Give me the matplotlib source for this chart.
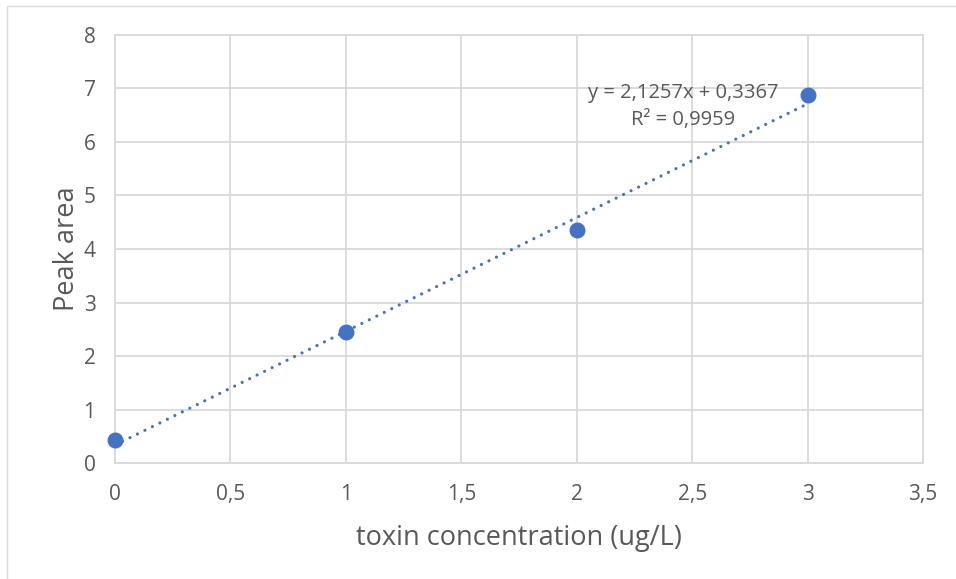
import numpy as np
import matplotlib.pyplot as plt
from matplotlib.patches import Rectangle

plt.rcParams['font.family'] = ['Open Sans', 'DejaVu Sans']

conc = [0, 1, 2, 3]
area = [0.43, 2.44, 4.35, 6.88]
x_ticks = [0, 0.5, 1, 1.5, 2, 2.5, 3, 3.5]
x_labels = ['0', '0,5', '1', '1,5', '2', '2,5', '3', '3,5']
y_ticks = [0, 1, 2, 3, 4, 5, 6, 7, 8]
eq_text = 'y = 2,1257x + 0,3367\nR² = 0,9959'

blue = '#4472C4'
grey = '#595959'

fig = plt.figure(figsize=(9.56, 5.79), dpi=100)
fig.patches.append(Rectangle((7 / 956, -0.1), 1.2, 1.1 - 6 / 579, transform=fig.transFigure,
                             fill=False, edgecolor='#d9d9d9', linewidth=1))
ax = fig.add_axes([0.1203, 0.2003, 0.8452, 0.7393])

# trendline from least squares
k, b = np.polyfit(conc, area, 1)
tx = np.array([conc[0], conc[-1]])
ax.plot(tx, k * tx + b, linestyle=(0, (0.01, 2.6)), color=blue, linewidth=2.3,
        dash_capstyle='round', zorder=3)
ax.scatter(conc, area, s=110, color=blue, zorder=4, clip_on=False)

ax.text(2.46, 6.66, eq_text, ha='center', va='center', fontsize=14.5,
        color=grey, linespacing=1.5, zorder=5)

ax.set_xlim(0, 3.5)
ax.set_ylim(0, 8)
ax.set_xticks(x_ticks)
ax.set_xticklabels(x_labels)
ax.set_yticks(y_ticks)
ax.grid(color='#d9d9d9', linewidth=1.3)
ax.set_axisbelow(True)
for s in ax.spines.values():
    s.set_color('#d9d9d9')
    s.set_linewidth(1.3)
ax.tick_params(length=0, labelsize=15, colors=grey, pad=14)
ax.tick_params(axis='x', pad=15)
ax.set_xlabel('toxin concentration (ug/L)', fontsize=19.5, color=grey, labelpad=14)
ax.set_ylabel('Peak area', fontsize=19.5, color=grey, labelpad=2)

fig.savefig('out.png', dpi=100)
